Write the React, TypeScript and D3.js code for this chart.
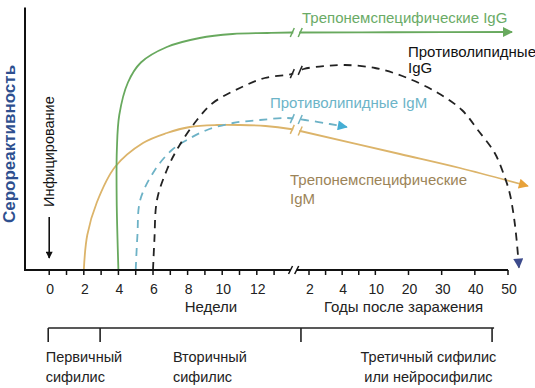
import React, { useEffect, useRef } from "react";
import * as d3 from "d3";

// x units: weeks 0..14, then a break, then years by index (15 -> "2" ... 21 -> "50")
const weekTicks = d3.range(0, 14);
const weekLabels = [0, 2, 4, 6, 8, 10, 12];
const yearLabels = ["2", "4", "10", "20", "30", "40", "50"];
const yearTicks = [0, 0.5, 1, 1.5, 2, 3, 4, 5, 6];

// [x unit, seroreactivity]
const treponemalIgG: [number, number][] = [
  [4, 0], [3.9, 28], [3.91, 48], [4.05, 62], [4.55, 75], [5.3, 83],
  [6.8, 89.2], [8.7, 92.8], [10.6, 94.4], [12.6, 94.8], [14, 95], [14.5, 95],
  [17.5, 95.1], [21.12, 95.2],
];
const lipoidalIgG: [number, number][] = [
  [6, 0], [6.08, 12], [6.23, 28], [6.8, 40], [7.44, 48.8], [8.54, 60],
  [9.46, 66.8], [11.02, 72.8], [12.46, 76.8], [14, 78.4], [14.7, 80.4],
  [15.48, 81.6], [16.08, 82], [16.99, 80.8], [17.89, 77.2], [18.89, 70.8],
  [19.61, 64], [20.09, 56], [20.6, 46.8], [20.9, 37.2], [21.05, 30.8],
  [21.17, 22], [21.26, 12], [21.33, 1],
];
const lipoidalIgM: [number, number][] = [
  [5, 0], [5.1, 14], [5.26, 28], [6.11, 40], [7.09, 48], [7.96, 52],
  [9.12, 56], [10.62, 58.8], [12.18, 60], [13.74, 60.8], [14.78, 60],
  [15.63, 58.4], [16.14, 57.2],
];
const treponemalIgM: [number, number][] = [
  [2, 0], [2.2, 14], [2.75, 27], [3.8, 41.2], [5.42, 50.8], [6.8, 54.8],
  [8.13, 57.2], [9.69, 58], [11, 58], [12.5, 57.6], [13.94, 56.4],
  [14.5, 55.6], [17.74, 46.4], [19.55, 40.8], [21.6, 33.6],
];

const stageBounds = [0, 3, 14.6, 20.55];

const FONT = "'Liberation Sans', Arial, sans-serif";

const App = () => {
  const svgRef = useRef<SVGSVGElement>(null);

  useEffect(() => {
    const svg = d3.select(svgRef.current);
    svg.selectAll("*").remove();

    const x = d3
      .scaleLinear()
      .domain([-1.4, 14, 15, 21])
      .range([25, 291.4, 309, 508]);
    const y = d3.scaleLinear().domain([0, 105]).range([270, 7.5]);

    const series = [
      { data: treponemalIgM, color: "#dcb46a", dash: null, arrow: "#e8a23a" },
      { data: lipoidalIgM, color: "#6db2c6", dash: "8,6", arrow: "#45aed4" },
      { data: lipoidalIgG, color: "#222", dash: "8,6", arrow: "#3d4b8c" },
      { data: treponemalIgG, color: "#68a95e", dash: null, arrow: "#68a95e" },
    ];

    const defs = svg.append("defs");
    series.forEach((s, i) => {
      defs
        .append("marker")
        .attr("id", `arr${i}`)
        .attr("viewBox", "0 0 10 10")
        .attr("refX", 9)
        .attr("refY", 5)
        .attr("markerWidth", 11)
        .attr("markerHeight", 10)
        .attr("markerUnits", "userSpaceOnUse")
        .attr("orient", "auto")
        .append("path")
        .attr("d", "M0,0 L10,5 L0,10 Z")
        .attr("fill", s.arrow);
    });
    defs
      .append("marker")
      .attr("id", "arrInf")
      .attr("viewBox", "0 0 10 10")
      .attr("refX", 9)
      .attr("refY", 5)
      .attr("markerWidth", 9)
      .attr("markerHeight", 7)
      .attr("markerUnits", "userSpaceOnUse")
      .attr("orient", "auto")
      .append("path")
      .attr("d", "M0,0 L10,5 L0,10 Z")
      .attr("fill", "#111");

    const line = d3
      .line<[number, number]>()
      .x((d) => x(d[0]))
      .y((d) => y(d[1]))
      .curve(d3.curveCatmullRom.alpha(0.5));

    // value of a curve at a given x unit (monotonic tail)
    const at = (data: [number, number][], u: number) => {
      for (let i = data.length - 2; i >= 0; i--) {
        const a = data[i];
        const b = data[i + 1];
        if (a[0] <= u && b[0] >= u) {
          const t = (u - a[0]) / (b[0] - a[0] || 1);
          return a[1] + t * (b[1] - a[1]);
        }
      }
      return data[data.length - 1][1];
    };

    const brkA = 14.05;
    const brkB = 14.5;

    series.forEach((s, i) => {
      svg
        .append("path")
        .attr("d", line(s.data))
        .attr("fill", "none")
        .attr("stroke", s.color)
        .attr("stroke-width", 1.8)
        .attr("stroke-dasharray", s.dash)
        .attr("marker-end", `url(#arr${i})`);

      const ya = at(s.data, brkA);
      const yb = at(s.data, brkB);
      svg
        .append("line")
        .attr("x1", x(brkA) + 1)
        .attr("y1", y(ya))
        .attr("x2", x(brkB) - 1)
        .attr("y2", y(yb))
        .attr("stroke", "#fff")
        .attr("stroke-width", 5);
      [
        [brkA, ya],
        [brkB, yb],
      ].forEach(([u, v]) => {
        svg
          .append("line")
          .attr("x1", x(u) - 2)
          .attr("y1", y(v) + 4.5)
          .attr("x2", x(u) + 2)
          .attr("y2", y(v) - 4.5)
          .attr("stroke", s.color)
          .attr("stroke-width", 1.5);
      });
    });

    // axes
    const y0 = y(0);
    svg
      .append("line")
      .attr("x1", x(-1.4))
      .attr("x2", x(-1.4))
      .attr("y1", y(105))
      .attr("y2", y0 + 1)
      .attr("stroke", "#111")
      .attr("stroke-width", 2);
    svg
      .append("line")
      .attr("x1", x(-1.4) - 1)
      .attr("x2", x(13.95))
      .attr("y1", y0)
      .attr("y2", y0)
      .attr("stroke", "#111")
      .attr("stroke-width", 2);
    svg
      .append("line")
      .attr("x1", x(14.3))
      .attr("x2", x(21))
      .attr("y1", y0)
      .attr("y2", y0)
      .attr("stroke", "#111")
      .attr("stroke-width", 2);
    [13.95, 14.3].forEach((u) => {
      svg
        .append("line")
        .attr("x1", x(u) - 2)
        .attr("y1", y0 + 4)
        .attr("x2", x(u) + 2)
        .attr("y2", y0 - 4)
        .attr("stroke", "#111")
        .attr("stroke-width", 1.5);
    });

    const tickPos = [...weekTicks, ...yearTicks.map((t) => 15 + t)];
    svg
      .append("g")
      .selectAll("line")
      .data(tickPos)
      .join("line")
      .attr("x1", (d) => x(d))
      .attr("x2", (d) => x(d))
      .attr("y1", y0)
      .attr("y2", y0 + 5)
      .attr("stroke", "#111")
      .attr("stroke-width", 1.5);

    const labels = [
      ...weekLabels.map((w) => ({ u: w, t: String(w) })),
      ...yearLabels.map((t, i) => ({ u: 15 + i, t })),
    ];
    svg
      .append("g")
      .selectAll("text")
      .data(labels)
      .join("text")
      .attr("x", (d) => x(d.u) + 1)
      .attr("y", y0 + 24)
      .attr("text-anchor", "middle")
      .attr("font-family", FONT)
      .attr("font-size", 14)
      .attr("fill", "#222")
      .text((d) => d.t);

    const txt = (
      tx: number,
      ty: number,
      s: string,
      color: string,
      size = 15,
      anchor = "start"
    ) =>
      svg
        .append("text")
        .attr("x", tx)
        .attr("y", ty)
        .attr("text-anchor", anchor)
        .attr("font-family", FONT)
        .attr("font-size", size)
        .attr("fill", color)
        .text(s);

    txt(x(9.35), 312, "Недели", "#222", 15, "middle");
    txt(x(17.85), 312, "Годы после заражения", "#222", 15, "middle");

    // series labels
    txt(302, 23, "Трепонемспецифические IgG", "#6aab66");
    txt(408, 57, "Противолипидные", "#111");
    txt(408, 73, "IgG", "#111");
    txt(270, 108, "Противолипидные IgM", "#6cb4c8");
    txt(290, 185, "Трепонемспецифические", "#9c8458");
    txt(290, 204, "IgM", "#9c8458");

    // y label
    svg
      .append("text")
      .attr("transform", "translate(15,144) rotate(-90)")
      .attr("text-anchor", "middle")
      .attr("font-family", FONT)
      .attr("font-weight", "bold")
      .attr("font-size", 17)
      .attr("fill", "#2e4f8f")
      .text("Серореактивность");

    // infection marker
    svg
      .append("text")
      .attr("transform", "translate(54,207) rotate(-90)")
      .attr("font-family", FONT)
      .attr("font-size", 14.5)
      .attr("fill", "#111")
      .text("Инфицирование");
    svg
      .append("line")
      .attr("x1", x(0))
      .attr("x2", x(0))
      .attr("y1", 217)
      .attr("y2", 258)
      .attr("stroke", "#111")
      .attr("stroke-width", 1.6)
      .attr("marker-end", "url(#arrInf)");

    // stages bracket
    const by = 328;
    svg
      .append("line")
      .attr("x1", x(stageBounds[0]) - 1)
      .attr("x2", x(stageBounds[3]) + 1)
      .attr("y1", by)
      .attr("y2", by)
      .attr("stroke", "#222")
      .attr("stroke-width", 1.6);
    svg
      .append("g")
      .selectAll("line")
      .data(stageBounds)
      .join("line")
      .attr("x1", (d) => x(d) - 1)
      .attr("x2", (d) => x(d) - 1)
      .attr("y1", by)
      .attr("y2", by + 14)
      .attr("stroke", "#222")
      .attr("stroke-width", 1.6);

    txt(x(-0.2), 362, "Первичный", "#222", 14.5);
    txt(x(-0.2), 382, "сифилис", "#222", 14.5);
    txt(x(7.15), 362, "Вторичный", "#222", 14.5);
    txt(x(7.15), 382, "сифилис", "#222", 14.5);
    txt(x(18.6), 362, "Третичный сифилис", "#222", 14.5, "middle");
    txt(x(18.6), 382, "или нейросифилис", "#222", 14.5, "middle");
  }, []);

  return (
    <svg
      ref={svgRef}
      width={535}
      height={388}
      style={{ position: "absolute", left: 0, top: 0, background: "#fff" }}
    ></svg>
  );
};

export default App;
